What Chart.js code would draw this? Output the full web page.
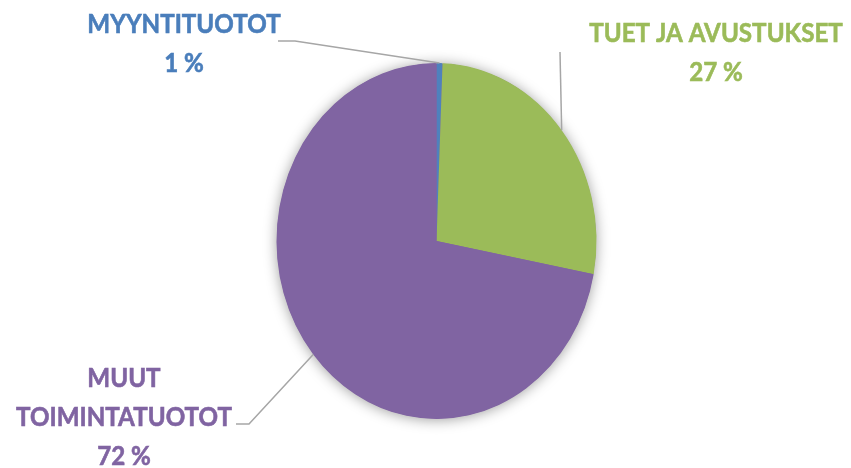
<!DOCTYPE html>
<html>
<head>
<meta charset="utf-8">
<script src="https://cdn.jsdelivr.net/npm/chart.js@4/dist/chart.umd.min.js"></script>
<style>
html,body{margin:0;padding:0;background:#fff;}
#wrap{width:851px;height:468px;position:relative;}
</style>
</head>
<body>
<div id="wrap"><canvas id="c" width="851" height="468"></canvas></div>
<script>
const categories = ['MYYNTITUOTOT', 'TUET JA AVUSTUKSET', 'MUUT TOIMINTATUOTOT'];
const values = [0.6, 27.4, 72.0];
const labelLines = [['MYYNTITUOTOT'], ['TUET JA AVUSTUKSET'], ['MUUT', 'TOIMINTATUOTOT']];
const sliceColors = ['#4F81BD', '#9BBB59', '#8064A2'];
const textColors = ['#4A7EBB', '#9BBB59', '#8064A2'];

const total = values.reduce((a, b) => a + b, 0);
const pctText = values.map(v => Math.round(v / total * 100) + ' %');

// layout of the data labels (positions only)
const labelLayout = [
  { cx: 184, base: 33, lead: [[278, 41], [295, 41]] },
  { cx: 716, base: 42, lead: [[560, 52]] },
  { cx: 124, base: 387, lead: [[236, 424], [249, 424]] }
];
const SY = 178 / 160; // vertical stretch of the pie
const LINE_H = 39;

function slicePoint(el) {
  const a = (el.startAngle + el.endAngle) / 2;
  const r = el.outerRadius;
  return [el.x + r * Math.cos(a), el.y + r * SY * Math.sin(a)];
}

const ellipsePlugin = {
  id: 'ellipse',
  beforeDatasetsDraw(chart) {
    const ctx = chart.ctx;
    const el = chart.getDatasetMeta(0).data[0];
    ctx.save();
    ctx.translate(el.x, el.y);
    ctx.scale(1, SY);
    ctx.translate(-el.x, -el.y);
    // soft shadow under the pie
    ctx.save();
    ctx.shadowColor = 'rgba(0,0,0,0.4)';
    ctx.shadowBlur = 14;
    ctx.shadowOffsetX = 0;
    ctx.shadowOffsetY = 1;
    ctx.beginPath();
    ctx.arc(el.x, el.y, el.outerRadius - 0.5, 0, Math.PI * 2);
    ctx.fillStyle = '#8064A2';
    ctx.fill();
    ctx.restore();
  },
  afterDatasetsDraw(chart) {
    chart.ctx.restore();
  },
  afterDraw(chart) {
    const ctx = chart.ctx;
    const meta = chart.getDatasetMeta(0);
    ctx.save();
    // leader lines
    ctx.strokeStyle = '#A6A6A6';
    ctx.lineWidth = 1.5;
    meta.data.forEach((el, i) => {
      const pts = labelLayout[i].lead.concat([slicePoint(el)]);
      ctx.beginPath();
      ctx.moveTo(pts[0][0], pts[0][1]);
      for (let k = 1; k < pts.length; k++) ctx.lineTo(pts[k][0], pts[k][1]);
      ctx.stroke();
    });
    // texts
    ctx.font = 'bold 26px Lato';
    ctx.textAlign = 'center';
    ctx.textBaseline = 'alphabetic';
    ctx.lineWidth = 0.6;
    categories.forEach((c, i) => {
      const L = labelLayout[i];
      ctx.fillStyle = textColors[i];
      ctx.strokeStyle = textColors[i];
      const lines = labelLines[i].concat([pctText[i]]);
      lines.forEach((t, k) => {
        ctx.save();
        ctx.translate(L.cx, L.base + k * LINE_H);
        ctx.scale(0.93, 1);
        ctx.fillText(t, 0, 0);
        ctx.strokeText(t, 0, 0);
        ctx.restore();
      });
    });
    ctx.restore();
  }
};

new Chart(document.getElementById('c'), {
  type: 'pie',
  data: {
    labels: categories,
    datasets: [{
      data: values,
      backgroundColor: sliceColors,
      borderWidth: 0
    }]
  },
  options: {
    responsive: false,
    animation: false,
    layout: { padding: { top: 81, bottom: 67, left: 276.5, right: 254.5 } },
    plugins: {
      legend: { display: false },
      tooltip: { enabled: false }
    }
  },
  plugins: [ellipsePlugin]
});
</script>
</body>
</html>
